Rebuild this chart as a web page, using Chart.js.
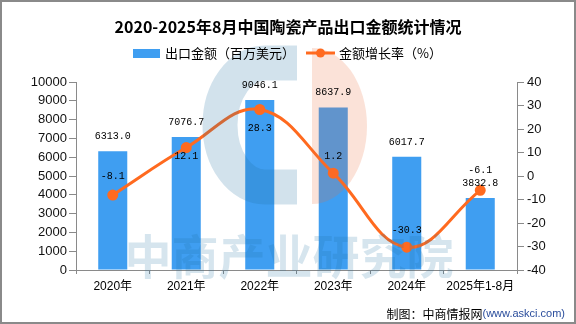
<!DOCTYPE html>
<html>
<head>
<meta charset="utf-8">
<script src="https://cdn.jsdelivr.net/npm/chart.js@4/dist/chart.umd.min.js"></script>
<style>
  html, body { margin: 0; padding: 0; background: #fff; }
  canvas { display: block; }
</style>
</head>
<body>
<canvas id="exportChart" width="576" height="324"></canvas>
<script>
// Ceramic product exports, 2020 - Aug 2025
const years = ['2020年', '2021年', '2022年', '2023年', '2024年', '2025年1-8月'];
const exportValue = [6313.0, 7076.7, 9046.1, 8637.9, 6017.7, 3832.8]; // million USD
const growthRate = [-8.1, 12.1, 28.3, 1.2, -30.3, -6.1];              // %

const BAR_COLOR = '#3F9EF1';
const LINE_COLOR = '#FF6A1F';
const AXIS_COLOR = '#8a8a8a';
const CJK = '"Noto Sans CJK SC", sans-serif';

// vertical shift of each growth label relative to its point (negative = above)
const rateLabelOffset = [-19, 9, 19, -17, -17, -20];

// background, watermark, labels, title, legend and source line
const decorPlugin = {
    id: 'decor',
    beforeDraw(chart) {
        const ctx = chart.ctx;
        ctx.save();
        ctx.fillStyle = '#fff';
        ctx.fillRect(0, 0, chart.width, chart.height);
        ctx.restore();
    },
    afterDatasetsDraw(chart) {
        const ctx = chart.ctx;

        // faint logo + company name watermark
        ctx.save();
        ctx.strokeStyle = 'rgba(30,110,160,0.2)';
        ctx.fillStyle = 'rgba(30,110,160,0.2)';
        ctx.lineWidth = 35;
        ctx.lineCap = 'butt';
        ctx.beginPath();
        ctx.ellipse(265, 125, 45, 62, 0, -Math.PI / 2, Math.PI / 2, true);
        ctx.stroke();
        ctx.fillRect(265, 45.5, 32, 35);
        ctx.fillRect(265, 169.5, 32, 35);

        ctx.fillStyle = 'rgba(235,110,60,0.2)';
        ctx.beginPath();
        ctx.moveTo(312, 48);
        ctx.ellipse(312, 126, 55, 78, 0, -Math.PI / 2, Math.PI / 2, false);
        ctx.closePath();
        ctx.fill();

        ctx.fillStyle = 'rgba(30,110,160,0.18)';
        ctx.font = 'bold 47px ' + CJK;
        ctx.textAlign = 'center';
        ctx.textBaseline = 'middle';
        ctx.fillText('中商产业研究院', 289, 256);
        ctx.restore();

        // value labels
        ctx.save();
        ctx.font = '10px "Liberation Mono", monospace';
        ctx.fillStyle = '#000';
        ctx.textAlign = 'center';
        ctx.textBaseline = 'middle';
        chart.getDatasetMeta(0).data.forEach((bar, i) => {
            ctx.fillText(exportValue[i].toFixed(1), bar.x, bar.y - 15);
        });
        chart.getDatasetMeta(1).data.forEach((pt, i) => {
            ctx.fillText(growthRate[i].toFixed(1), pt.x, pt.y + rateLabelOffset[i]);
        });
        ctx.restore();
    },
    afterDraw(chart) {
        const ctx = chart.ctx;
        ctx.save();
        ctx.fillStyle = '#000';
        ctx.textBaseline = 'middle';

        // title
        ctx.font = 'bold 16px ' + CJK;
        ctx.textAlign = 'center';
        ctx.fillText('2020-2025年8月中国陶瓷产品出口金额统计情况', 288, 27);

        // legend
        ctx.font = '13px ' + CJK;
        ctx.textAlign = 'left';
        ctx.fillStyle = BAR_COLOR;
        ctx.fillRect(133, 49, 27, 9);
        ctx.fillStyle = '#000';
        ctx.fillText(chart.data.datasets[0].label, 165, 53);

        ctx.strokeStyle = LINE_COLOR;
        ctx.lineWidth = 3;
        ctx.beginPath();
        ctx.moveTo(306, 53);
        ctx.lineTo(335, 53);
        ctx.stroke();
        ctx.fillStyle = LINE_COLOR;
        ctx.beginPath();
        ctx.arc(320.5, 53, 4.5, 0, Math.PI * 2);
        ctx.fill();
        ctx.fillStyle = '#000';
        ctx.fillText(chart.data.datasets[1].label, 339, 53);

        // source
        ctx.textAlign = 'right';
        ctx.font = '11px "Liberation Sans", sans-serif';
        ctx.fillStyle = '#2A4D9C';
        const url = '(www.askci.com)';
        ctx.fillText(url, 565, 314);
        const urlW = ctx.measureText(url).width;
        ctx.font = '12px ' + CJK;
        ctx.fillStyle = '#000';
        ctx.fillText('制图：中商情报网', 565 - urlW, 314);

        // frame
        ctx.strokeStyle = AXIS_COLOR;
        ctx.lineWidth = 2;
        ctx.strokeRect(1, 1, chart.width - 2, chart.height - 2);
        ctx.restore();
    }
};

const axisGrid = { drawOnChartArea: false, color: AXIS_COLOR, tickLength: 7 };
const tickFont = { family: '"Liberation Sans", sans-serif', size: 13 };
const plainTick = v => String(v);

new Chart(document.getElementById('exportChart'), {
    data: {
        labels: years,
        datasets: [
            {
                type: 'bar',
                label: '出口金额（百万美元）',
                data: exportValue,
                backgroundColor: BAR_COLOR,
                barPercentage: 0.395,
                categoryPercentage: 1,
                yAxisID: 'y',
                order: 2
            },
            {
                type: 'line',
                label: '金额增长率（%）',
                data: growthRate,
                borderColor: LINE_COLOR,
                backgroundColor: LINE_COLOR,
                pointBackgroundColor: LINE_COLOR,
                pointBorderColor: LINE_COLOR,
                borderWidth: 3,
                pointRadius: 4,
                tension: 0.4,
                yAxisID: 'y1',
                order: 1
            }
        ]
    },
    options: {
        responsive: false,
        animation: false,
        layout: { padding: { top: 82, left: 0, right: 0, bottom: 0 } },
        plugins: {
            legend: { display: false },
            title: { display: false },
            tooltip: { enabled: false }
        },
        scales: {
            x: {
                grid: { offset: true, drawOnChartArea: false, color: AXIS_COLOR, tickLength: 4 },
                border: { color: AXIS_COLOR },
                ticks: {
                    color: '#000',
                    font: { family: '"Liberation Sans", "Noto Sans CJK SC", sans-serif', size: 12 },
                    padding: 5,
                    maxRotation: 0,
                    autoSkip: false
                },
                afterFit(scale) { scale.height = 54; }
            },
            y: {
                position: 'left',
                min: 0,
                max: 10000,
                ticks: { stepSize: 1000, color: '#111', font: tickFont, padding: 2, callback: plainTick },
                grid: axisGrid,
                border: { color: AXIS_COLOR },
                afterFit(scale) { scale.width = 76; }
            },
            y1: {
                position: 'right',
                min: -40,
                max: 40,
                ticks: { stepSize: 10, color: '#111', font: tickFont, padding: 3, callback: plainTick },
                grid: axisGrid,
                border: { color: AXIS_COLOR },
                afterFit(scale) { scale.width = 59; }
            }
        }
    },
    plugins: [decorPlugin]
});
</script>
</body>
</html>
